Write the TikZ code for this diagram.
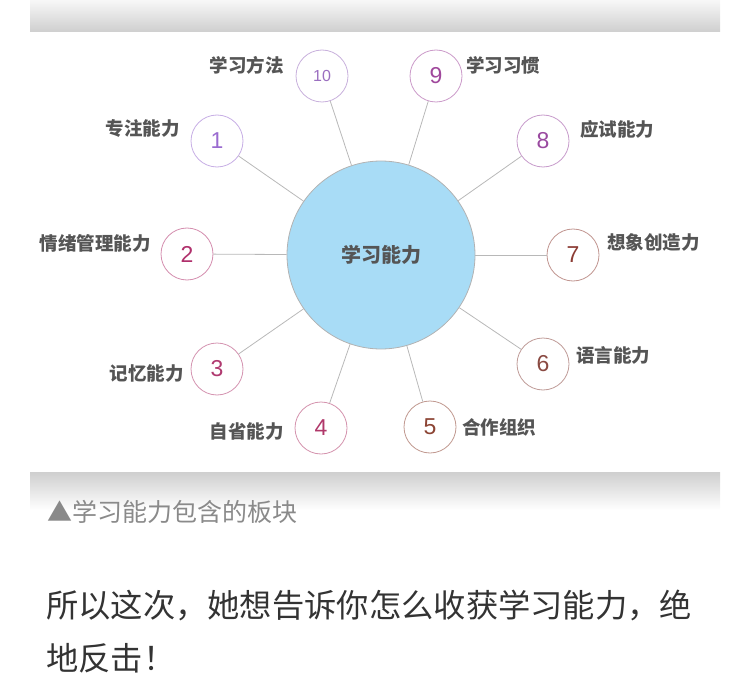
\documentclass[tikz,border=0pt]{standalone}
\usepackage{fontspec}
\setmainfont{Liberation Sans}
\newfontfamily\cjk{Noto Sans CJK SC}

\definecolor{hubblue}{HTML}{A8DCF6}
\definecolor{labelgray}{HTML}{555555}
\definecolor{spokegray}{HTML}{B8B8B8}
\definecolor{capgray}{HTML}{8A8A8A}
\definecolor{bodytext}{HTML}{333333}
\definecolor{num1}{HTML}{9A6BD0}
\definecolor{num2}{HTML}{B0306C}
\definecolor{num3}{HTML}{B03A70}
\definecolor{num4}{HTML}{B0386A}
\definecolor{num5}{HTML}{8C4434}
\definecolor{num6}{HTML}{8A4A42}
\definecolor{num7}{HTML}{8C3C34}
\definecolor{num8}{HTML}{9A4AA0}
\definecolor{num9}{HTML}{A0489C}
\definecolor{num10}{HTML}{9B6FC0}

\tikzset{
  hub/.style={circle,draw=gray!60,fill=hubblue,line width=0.8pt,minimum size=188pt,inner sep=0pt,
    font=\cjk\bfseries\fontsize{20}{20}\selectfont,text=labelgray},
  sat/.style={circle,draw=#1!55,fill=white,line width=0.8pt,minimum size=52pt,inner sep=0pt,text=#1},
  lbl/.style={font=\cjk\bfseries\fontsize{18.5}{18.5}\selectfont,text=labelgray,inner sep=0pt},
  spoke/.style={draw=spokegray,line width=0.8pt},
  band/.style={draw=none},
}

\begin{document}
\begin{tikzpicture}[x=1pt,y=-1pt]
\useasboundingbox (0,0) rectangle (750,698);
% shadow bands above and below the chart
\shade[band,top color=gray!6,bottom color=gray!38] (30,0) rectangle (720,32);
\shade[band,top color=gray!38,bottom color=white] (30,472) rectangle (720,510);

\node[hub] (hub) at (381,255) {学习能力};

% number / x / y / colour / label anchor / label x / label y / size / label
\foreach \n/\x/\y/\c/\an/\lx/\ly/\fs/\t in {
  10/322/76/num10/east/284/65/16/学习方法,
  9/436/76/num9/west/466/65/23/学习习惯,
  1/217/141/num1/east/180/128/23/专注能力,
  8/543/141/num8/west/580/129/23/应试能力,
  2/187/254/num2/east/151/243/23/情绪管理能力,
  7/573/255/num7/west/607/242/23/想象创造力,
  3/217/369/num3/east/184/373/23/记忆能力,
  6/543/364/num6/west/576/355/23/语言能力,
  4/321/428/num4/east/284/431/23/自省能力,
  5/430/427/num5/west/462/427/23/合作组织} {
  \node[sat=\c,font=\fontsize{\fs}{\fs}\selectfont] (s\n) at (\x,\y) {\n};
  \node[lbl,anchor=\an] (t\n) at (\lx,\ly) {\t};
}
\foreach \n in {1,...,10} { \draw[spoke] (hub) -- (s\n); }

\node[anchor=west,inner sep=0pt,text=capgray,font=\cjk\fontsize{25}{25}\selectfont] (cap) at (47,512) {▲学习能力包含的板块};
\node[anchor=west,inner sep=0pt,text=bodytext,font=\cjk\fontsize{32.3}{32.3}\selectfont] (line1) at (46,605) {所以这次，她想告诉你怎么收获学习能力，绝};
\node[anchor=west,inner sep=0pt,text=bodytext,font=\cjk\fontsize{32.3}{32.3}\selectfont] (line2) at (46,658) {地反击！};
\end{tikzpicture}
\end{document}
